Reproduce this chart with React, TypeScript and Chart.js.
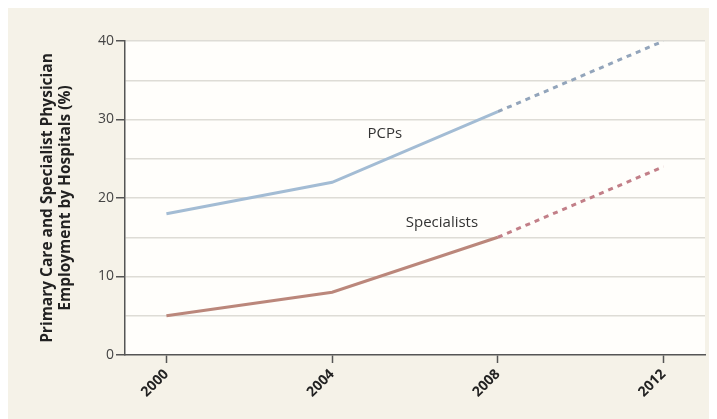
import React, { useEffect, useRef } from "react";
import { Chart, registerables } from "chart.js";

Chart.register(...registerables);

const years = [2000, 2004, 2008, 2012];
const pcpValues = [18, 22, 31, 40];
const specialistValues = [5, 8, 15, 24];
const projectionStartYear = 2008;
const yTickLabels = [0, 10, 20, 30, 40];
const seriesLabels = ["PCPs", "Specialists"];
const labelAnchors = [
  { text: "PCPs", x: 2005.27, y: 28.2 },
  { text: "Specialists", x: 2006.65, y: 16.9 },
];

const BG = "#f5f2e8";
const PLOT_BG = "#fffefb";
const AXIS = "#555555";
const GRID = "#dedcd6";

const plotBgPlugin = {
  id: "plotBg",
  beforeDraw(chart: any) {
    const { ctx, chartArea } = chart;
    ctx.save();
    ctx.fillStyle = PLOT_BG;
    ctx.fillRect(chartArea.left, chartArea.top, chartArea.right - chartArea.left, chartArea.bottom - chartArea.top);
    ctx.restore();
  },
};

const seriesLabelPlugin = {
  id: "seriesLabels",
  afterDatasetsDraw(chart: any) {
    const { ctx, scales } = chart;
    ctx.save();
    ctx.fillStyle = "#333333";
    ctx.font = "15px 'Open Sans', sans-serif";
    ctx.textAlign = "center";
    ctx.textBaseline = "middle";
    labelAnchors.forEach((a) => {
      ctx.fillText(a.text, scales.x.getPixelForValue(a.x), scales.y.getPixelForValue(a.y));
    });
    ctx.restore();
  },
};

function segStyle(solid: string, dashed: string) {
  return {
    borderDash: (c: any) => (c.p0.parsed.x >= projectionStartYear ? [5, 5] : undefined),
    borderColor: (c: any) => (c.p0.parsed.x >= projectionStartYear ? dashed : solid),
  };
}

export default function App() {
  const ref = useRef<HTMLCanvasElement | null>(null);

  useEffect(() => {
    if (!ref.current) return;
    const chart = new Chart(ref.current, {
      type: "line",
      data: {
        datasets: [
          {
            label: seriesLabels[0],
            data: years.map((x, i) => ({ x, y: pcpValues[i] })),
            borderColor: "#a3bcd4",
            borderWidth: 3,
            pointRadius: 0,
            tension: 0,
            segment: segStyle("#a3bcd4", "#93a5bb"),
          },
          {
            label: seriesLabels[1],
            data: years.map((x, i) => ({ x, y: specialistValues[i] })),
            borderColor: "#bb877b",
            borderWidth: 3,
            pointRadius: 0,
            tension: 0,
            segment: segStyle("#bb877b", "#c27f88"),
          },
        ],
      },
      options: {
        animation: false,
        responsive: true,
        maintainAspectRatio: false,
        layout: { padding: { left: 0, right: 12, top: 33, bottom: 0 } },
        plugins: { legend: { display: false }, tooltip: { enabled: false } },
        scales: {
          x: {
            type: "linear",
            min: 1999,
            max: 2013,
            afterBuildTicks: (scale: any) => {
              scale.ticks = years.map((v) => ({ value: v }));
            },
            afterFit: (scale: any) => {
              scale.height = 64;
            },
            grid: {
              drawOnChartArea: false,
              drawTicks: true,
              tickLength: 8,
              tickColor: AXIS,
              tickWidth: 1.5,
            },
            border: { color: AXIS, width: 1.5 },
            ticks: {
              minRotation: 45,
              maxRotation: 45,
              padding: 3,
              color: "#222222",
              font: { family: "'Open Sans', sans-serif", size: 14, weight: "bold" },
              callback: (v: any) => String(v),
            },
          },
          y: {
            min: 0,
            max: 40,
            afterFit: (scale: any) => {
              scale.width = 117;
            },
            grid: {
              color: (c: any) => (c.tick && c.tick.value === 0 ? "rgba(0,0,0,0)" : GRID),
              lineWidth: 1.5,
              drawTicks: true,
              tickLength: 9,
              tickColor: (c: any) => (c.tick && yTickLabels.includes(c.tick.value) ? AXIS : "rgba(0,0,0,0)"),
              tickWidth: 1.5,
            },
            border: { color: AXIS, width: 1.5 },
            ticks: {
              stepSize: 5,
              padding: 2,
              color: "#444444",
              font: { family: "'Open Sans', sans-serif", size: 14 },
              callback: (v: any) => (yTickLabels.includes(Number(v)) ? String(v) : ""),
            },
            title: {
              display: true,
              text: ["Primary Care and Specialist Physician", "Employment by Hospitals (%)"],
              color: "#222222",
              font: { family: "'Open Sans', sans-serif", size: 15.5, weight: "bold", lineHeight: 18 / 15.5 },
              padding: { top: 31, bottom: 0 },
            },
          },
        },
      },
      plugins: [plotBgPlugin, seriesLabelPlugin],
    });
    return () => chart.destroy();
  }, []);

  return (
    <div style={{ width: 709, height: 411, background: BG, position: "relative" }}>
      <canvas ref={ref} />
    </div>
  );
}
